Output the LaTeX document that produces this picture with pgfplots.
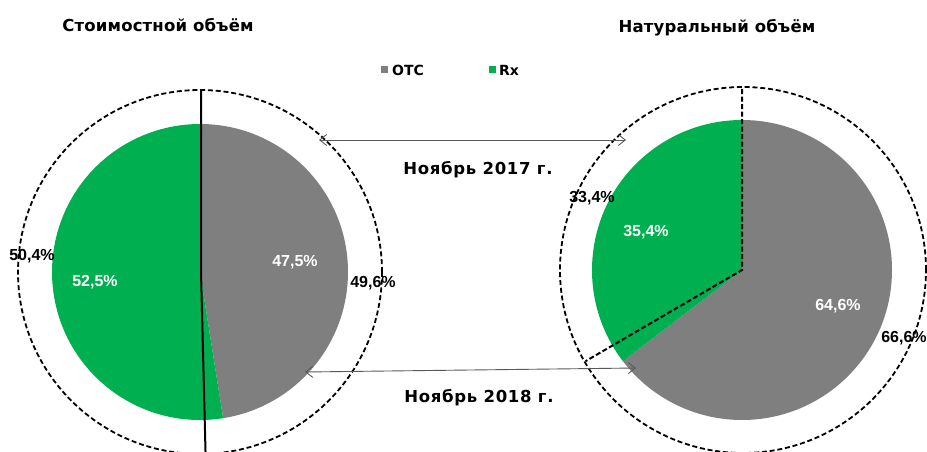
\documentclass[border=0pt]{standalone}
\usepackage{pgfplots}
\pgfplotsset{compat=1.18}
\usepackage{fontspec}
\setmainfont{DejaVu Sans}
\newfontfamily\arialf{Liberation Sans}
\usetikzlibrary{arrows.meta}
\definecolor{otcgray}{HTML}{7F7F7F}
\definecolor{rxgreen}{HTML}{00B050}
\definecolor{arrgray}{HTML}{595959}
% data (shares, %)
\def\ValOTCa{47.5}  % value, Nov 2018
\def\ValOTCaOld{49.6} % value, Nov 2017
\def\VolOTCa{64.6}  % volume, Nov 2018
\def\VolOTCaOld{66.6} % volume, Nov 2017
\begin{document}
\begin{tikzpicture}
\begin{axis}[
  scale only axis, width=927pt, height=451pt,
  xmin=0, xmax=927, ymin=0, ymax=451,
  hide axis, clip=true]
\pgfmathsetmacro{\aL}{90-3.6*\ValOTCa}
\pgfmathsetmacro{\aLo}{90-3.6*\ValOTCaOld}
\pgfmathsetmacro{\aR}{90-3.6*\VolOTCa}
\pgfmathsetmacro{\aRo}{90-3.6*\VolOTCaOld}
% left pie
\fill[otcgray] (axis cs:200,179) -- ++(90:148pt) arc[start angle=90, end angle=\aL, radius=148pt] -- cycle;
\fill[rxgreen] (axis cs:200,179) -- ++(\aL:148pt) arc[start angle=\aL, end angle=-270, radius=148pt] -- cycle;
\draw[black, line width=1.8pt, dash pattern=on 5pt off 2.8pt] (axis cs:200,179) circle[radius=182pt];
\draw[black, line width=2pt] (axis cs:201,179) ++(90:182pt) -- (axis cs:201,179) -- ++(\aLo:182pt);
% right pie
\fill[otcgray] (axis cs:742,181) -- ++(90:150pt) arc[start angle=90, end angle=\aR, radius=150pt] -- cycle;
\fill[rxgreen] (axis cs:742,181) -- ++(\aR:150pt) arc[start angle=\aR, end angle=-270, radius=150pt] -- cycle;
\draw[black, line width=1.8pt, dash pattern=on 5pt off 2.8pt] (axis cs:743,181) circle[radius=183pt];
\draw[black, line width=2pt, dash pattern=on 5pt off 2.5pt] (axis cs:742,181) ++(90:181pt) -- (axis cs:742,181) -- ++(\aRo:181pt);
% arrows
\draw[arrgray, line width=0.9pt, {Straight Barb[length=7pt,width=11pt]}-{Straight Barb[length=7pt,width=11pt]}] (axis cs:319,311) -- (axis cs:626,311);
\draw[arrgray, line width=0.9pt, {Straight Barb[length=7pt,width=11pt]}-{Straight Barb[length=7pt,width=11pt]}] (axis cs:305,79) -- (axis cs:636,83);
% texts
\node[font=\fontsize{16.5}{18}\selectfont\bfseries\addfontfeatures{LetterSpace=1}] at (axis cs:158,426) {Стоимостной объём};
\node[font=\fontsize{16.5}{18}\selectfont\bfseries\addfontfeatures{LetterSpace=1}] at (axis cs:717,423) {Натуральный объём};
\node[font=\fontsize{16.5}{18}\selectfont\bfseries\addfontfeatures{LetterSpace=4}] at (axis cs:478,281) {Ноябрь 2017 г.};
\node[font=\fontsize{16.5}{18}\selectfont\bfseries\addfontfeatures{LetterSpace=4}] at (axis cs:479,53) {Ноябрь 2018 г.};
% legend
\fill[otcgray] (axis cs:381,377.5) rectangle (axis cs:388,384.5);
\node[font=\fontsize{14}{15}\selectfont\bfseries, anchor=west, inner sep=0pt] at (axis cs:392,381) {OTC};
\fill[rxgreen] (axis cs:489,377.5) rectangle (axis cs:496,384.5);
\node[font=\fontsize{14}{15}\selectfont\bfseries, anchor=west, inner sep=0pt] at (axis cs:499,381) {Rx};
% percentage labels
\begin{scope}[every node/.style={font=\arialf\fontsize{16}{18}\selectfont\bfseries, inner sep=0pt}]
\node[black] at (axis cs:32,195) {50,4\%};
\node[white] at (axis cs:95,169) {52,5\%};
\node[white] at (axis cs:295,189) {47,5\%};
\node[black] at (axis cs:373,168) {49,6\%};
\node[black] at (axis cs:592,253) {33,4\%};
\node[white] at (axis cs:646,219) {35,4\%};
\node[white] at (axis cs:838,145) {64,6\%};
\node[black] at (axis cs:904,113) {66,6\%};
\end{scope}
\end{axis}
\pgfresetboundingbox
\path (current axis.south west) rectangle (current axis.north east);
\end{tikzpicture}
\end{document}
